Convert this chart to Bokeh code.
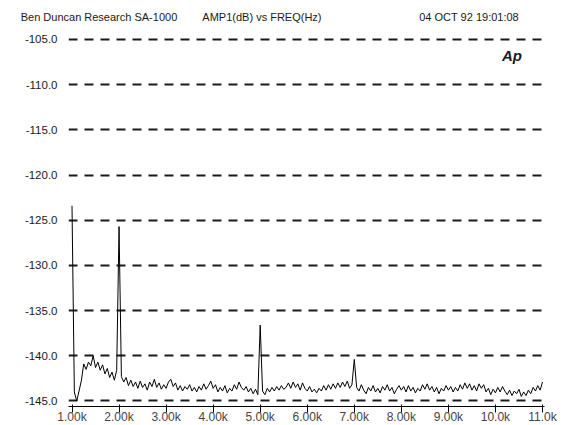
from bokeh.plotting import figure
from bokeh.models import FixedTicker, Label, Range1d, LinearAxis
from bokeh.embed import file_html
from bokeh.resources import INLINE

# ---------------- data ----------------
HEADER_LEFT = "Ben Duncan Research  SA-1000"
HEADER_MID = "AMP1(dB)  vs  FREQ(Hz)"
HEADER_RIGHT = "04 OCT 92 19:01:08"
LOGO = "Ap"

x_ticks = [1, 2, 3, 4, 5, 6, 7, 8, 9, 10, 11]
x_tick_labels = ["1.00k", "2.00k", "3.00k", "4.00k", "5.00k", "6.00k",
                 "7.00k", "8.00k", "9.00k", "10.0k", "11.0k"]
y_ticks = [-145, -140, -135, -130, -125, -120, -115, -110, -105]
y_tick_labels = ["-145.0", "-140.0", "-135.0", "-130.0", "-125.0",
                 "-120.0", "-115.0", "-110.0", "-105.0"]

# sweep: start 1.00 kHz, step 0.05 kHz
sweep_start_khz = 1.0
sweep_step_khz = 0.05

# AMP1 (dB), one value per sweep step
amp_db = [
    -123.4, -144.0, -145.0, -143.9, -142.7, -140.9, -141.5, -140.7, -141.1, -140.0,  # 1.00-1.45
    -141.3, -140.7, -141.6, -141.0, -142.0, -141.4, -142.4, -141.8, -142.7, -141.6,  # 1.50-1.95
    -125.7, -142.3, -142.9, -142.4, -143.3, -142.7, -143.4, -142.9, -143.6, -142.8,  # 2.00-2.45
    -143.5, -143.1, -143.8, -142.9, -143.4, -142.6, -143.5, -143.0, -143.7, -143.2,  # 2.50-2.95
    -143.6, -142.9, -142.6, -143.4, -143.0, -143.8, -143.3, -143.9, -143.4, -143.7,  # 3.00-3.45
    -143.2, -143.9, -143.5, -144.0, -143.4, -143.8, -143.1, -143.7, -143.3, -142.8,  # 3.50-3.95
    -143.6, -143.2, -144.0, -143.5, -143.9, -143.3, -144.1, -143.6, -143.9, -143.2,  # 4.00-4.45
    -143.7, -142.9, -143.5, -143.8, -143.4, -144.0, -143.6, -144.2, -143.7, -144.3,  # 4.50-4.95
    -136.6, -143.9, -144.3, -143.6, -144.0, -143.5, -143.9, -143.4, -143.8, -143.3,  # 5.00-5.45
    -143.7, -143.5, -143.0, -143.6, -142.9, -143.5, -143.1, -143.8, -143.0, -143.6,  # 5.50-5.95
    -143.9, -143.4, -144.0, -143.7, -144.1, -143.6, -143.9, -143.3, -143.8, -143.2,  # 6.00-6.45
    -143.7, -143.1, -143.6, -143.0, -143.5, -142.9, -143.4, -142.8, -143.6, -143.2,  # 6.50-6.95
    -140.4, -143.5, -143.9, -143.2, -143.8, -144.2, -143.5, -143.9, -143.3, -144.0,  # 7.00-7.45
    -143.6, -144.1, -143.4, -143.8, -143.2, -143.9, -143.5, -144.2, -143.7, -143.3,  # 7.50-7.95
    -143.8, -143.4, -144.0, -143.3, -143.9, -143.5, -144.1, -143.6, -143.9, -143.2,  # 8.00-8.45
    -143.7, -143.1, -143.8, -143.4, -144.0, -143.5, -144.2, -143.6, -143.9, -143.3,  # 8.50-8.95
    -143.8, -143.4, -144.0, -143.5, -143.9, -143.2, -143.7, -143.0, -143.6, -143.1,  # 9.00-9.45
    -143.8, -143.3, -143.9, -143.1, -143.6, -143.2, -144.0, -143.6, -144.3, -143.7,  # 9.50-9.95
    -144.1, -143.5, -144.0, -143.4, -143.9, -144.3, -143.8, -144.4, -143.9, -144.2,  # 10.00-10.45
    -143.7, -144.5, -144.0, -144.4, -143.8, -144.2, -143.5, -143.9, -143.3, -143.8,  # 10.50-10.95
    -142.9,                                                                          # 11.00
]
freq_khz = [sweep_start_khz + i * sweep_step_khz for i in range(len(amp_db))]

# header row placement (centre of each text, in kHz along the top axis)
header_texts = [HEADER_LEFT, HEADER_MID, HEADER_RIGHT]
header_pos = [1.606, 5.102, 9.44]

# ---------------- figure ----------------
FONT = "Liberation Sans"
INK = "#1a1a1a"

p = figure(
    width=565, height=425,
    frame_width=476, frame_height=373,
    min_border_left=68, min_border_right=21, min_border_top=33, min_border_bottom=19,
    x_range=Range1d(0.9256, 11.0425), y_range=Range1d(-145.61, -104.34),
    output_backend="svg", toolbar_location=None,
)
p.outline_line_color = None
p.background_fill_color = "white"
p.border_fill_color = "white"

# grid: dashed horizontal lines only
p.xgrid.visible = False
p.ygrid.ticker = FixedTicker(ticks=y_ticks)
p.ygrid.grid_line_color = INK
p.ygrid.grid_line_width = 2
p.ygrid.grid_line_dash = "9 7"

# header row as a tick-less top axis
top = LinearAxis(ticker=FixedTicker(ticks=header_pos),
                 major_label_overrides={t: s for t, s in zip(header_pos, header_texts)})
p.add_layout(top, "above")

def style_axis(ax):
    ax.axis_line_color = None
    ax.major_tick_line_color = None
    ax.minor_tick_line_color = None
    ax.major_tick_out = 0
    ax.major_tick_in = 0
    ax.minor_tick_out = 0
    ax.minor_tick_in = 0
    ax.major_label_text_font = FONT
    ax.major_label_text_color = INK
    ax.major_label_text_font_style = "normal"

for ax in (p.xaxis[0], p.yaxis[0], top):
    style_axis(ax)

top.major_label_text_font_size = "11px"
top.major_label_standoff = 11

xa = p.below[0]
xa.ticker = FixedTicker(ticks=x_ticks)
xa.major_label_overrides = {t: s for t, s in zip(x_ticks, x_tick_labels)}
xa.major_label_text_font_size = "12px"
xa.major_label_standoff = -3

p.yaxis.ticker = FixedTicker(ticks=y_ticks)
p.yaxis.major_label_overrides = {t: s for t, s in zip(y_ticks, y_tick_labels)}
p.yaxis.major_label_text_font_size = "11.5px"
p.yaxis.major_label_standoff = 11

# trace
p.line(freq_khz, amp_db, line_color="black", line_width=1)

# Ap logo
p.add_layout(Label(x=10.35, y=-106.8, text=LOGO, text_align="center",
                   text_baseline="middle", text_font=FONT, text_font_size="15px",
                   text_font_style="bold italic", text_color=INK))

open("out.html", "w").write(file_html(p, INLINE))
